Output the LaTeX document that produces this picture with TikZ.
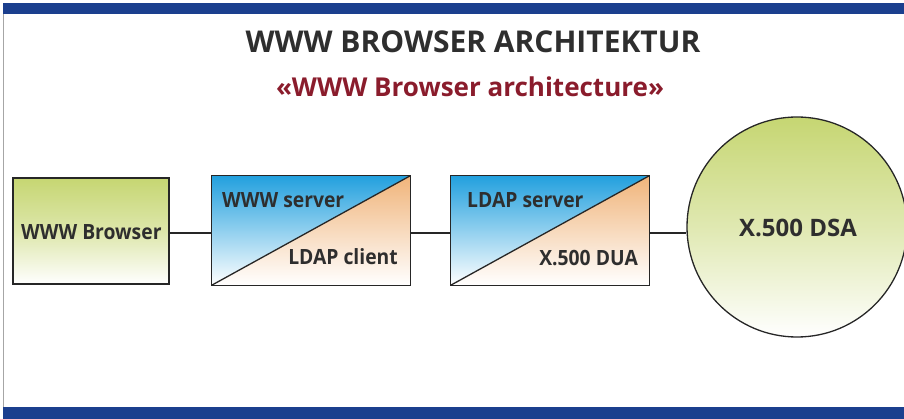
\documentclass[tikz,border=0pt]{standalone}
\usepackage{fontspec}
\setmainfont{Open Sans}
\newfontfamily\lblfont[FakeStretch=0.92]{Open Sans}
\definecolor{barblue}{HTML}{1B3F8E}
\definecolor{titlegray}{HTML}{2E2E2E}
\definecolor{subred}{HTML}{8A1C2C}
\definecolor{lime}{HTML}{C6D672}
\definecolor{sky}{HTML}{22A0DE}
\definecolor{peach}{HTML}{F0B47A}
\begin{document}
\begin{tikzpicture}[x=1pt,y=-1pt,
  boxline/.style={line width=1.3pt, draw=black!85},
  conn/.style={line width=1.2pt, draw=black!85},
  lbl/.style={inner sep=0pt, text=titlegray, font=\lblfont\bfseries\fontsize{21}{21}\selectfont},
  bigbox/.style={inner sep=0pt, minimum width=198pt, minimum height=109pt}]
\useasboundingbox (0,0) rectangle (904,419);
% frame bars
\fill[barblue] (3,3) rectangle (904,14);
\fill[barblue] (3,407) rectangle (904,419);
\draw[gray!70, line width=0.8pt] (3.4,14) -- (3.4,407);
% titles
\node[inner sep=0pt, anchor=base, text=titlegray, font=\bfseries\fontsize{30}{30}\selectfont] (title) at (473,53) {WWW BROWSER ARCHITEKTUR};
\node[inner sep=0pt, anchor=base, text=subred, font=\bfseries\fontsize{26}{26}\selectfont] (subtitle) at (470,97) {«WWW Browser architecture»};
% browser box
\node[boxline, top color=lime, bottom color=white, middle color=lime!60, inner sep=0pt, minimum width=156pt, minimum height=106pt] (browser) at (91,231) {};
\node[lbl, anchor=base west] (browsertxt) at (21,240) {WWW Browser};
% www server / ldap client
\path node[bigbox] (srv) at (311,230.5) {};
\shade[top color=sky, bottom color=white] (srv.south west) -- (srv.north west) -- (srv.north east) -- cycle;
\shade[top color=peach, bottom color=white] (srv.south west) -- (srv.south east) -- (srv.north east) -- cycle;
\draw[boxline] (srv.south west) -- (srv.north east);
\draw[boxline] (srv.south west) rectangle (srv.north east);
\node[lbl, anchor=base west] (srvtxt) at (222,208) {WWW server};
\node[lbl, anchor=base east] (clitxt) at (398,265) {LDAP client};
% ldap server / x.500 dua
\path node[bigbox] (ldap) at (550,230.5) {};
\shade[top color=sky, bottom color=white] (ldap.south west) -- (ldap.north west) -- (ldap.north east) -- cycle;
\shade[top color=peach, bottom color=white] (ldap.south west) -- (ldap.south east) -- (ldap.north east) -- cycle;
\draw[boxline] (ldap.south west) -- (ldap.north east);
\draw[boxline] (ldap.south west) rectangle (ldap.north east);
\node[lbl, anchor=base west] (ldaptxt) at (467,208) {LDAP server};
\node[lbl, anchor=base east] (duatxt) at (638,266) {X.500 DUA};
% dsa circle
\node[circle, boxline, top color=lime, bottom color=white, middle color=lime!55, inner sep=0pt, minimum size=220pt] (dsa) at (797,227) {};
\node[inner sep=0pt, anchor=base, text=titlegray, font=\bfseries\fontsize{24}{24}\selectfont] (dsatxt) at (798,237) {X.500 DSA};
% connectors
\draw[conn] (browser.east |- 0,233) -- (srv.west |- 0,233);
\draw[conn] (srv.east |- 0,233) -- (ldap.west |- 0,233);
\draw[conn] (ldap.east |- 0,233) -- (dsa.west |- 0,233);
\end{tikzpicture}
\end{document}
